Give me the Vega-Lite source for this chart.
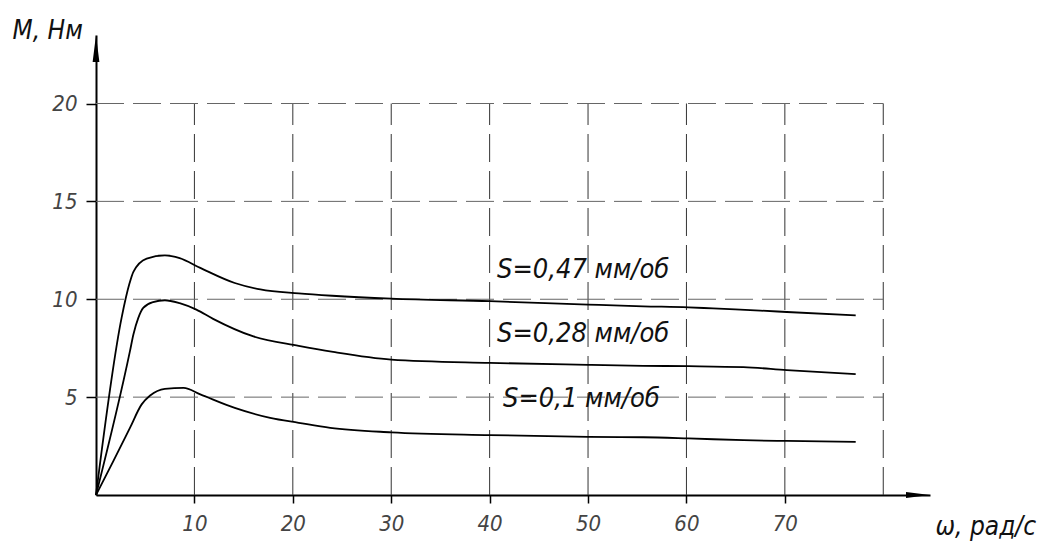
{
  "$schema": "https://vega.github.io/schema/vega-lite/v6.json",
  "width": 834,
  "height": 460,
  "autosize": {"type": "none"},
  "padding": {"left": 96, "top": 35, "right": 118, "bottom": 47},
  "background": "white",
  "config": {
    "view": {"stroke": null},
    "font": "DejaVu Sans Condensed",
    "axis": {
      "labelFont": "DejaVu Sans Condensed",
      "labelFontStyle": "italic",
      "labelColor": "#444",
      "labelFontSize": 22,
      "titleFont": "DejaVu Sans Condensed",
      "titleFontStyle": "italic",
      "titleFontWeight": "normal",
      "titleColor": "#111",
      "titleFontSize": 26,
      "domainColor": "black",
      "domainWidth": 2,
      "tickColor": "black",
      "tickWidth": 1.5,
      "grid": false
    }
  },
  "datasets": {
    "curves": [
      {"w": 0, "M": 0, "s": "0,47"},
      {"w": 2.6, "M": 9.05, "s": "0,47"},
      {"w": 3.4, "M": 10.8, "s": "0,47"},
      {"w": 3.8, "M": 11.4, "s": "0,47"},
      {"w": 5.15, "M": 12.08, "s": "0,47"},
      {"w": 7.0, "M": 12.24, "s": "0,47"},
      {"w": 8.5, "M": 12.1, "s": "0,47"},
      {"w": 10.6, "M": 11.6, "s": "0,47"},
      {"w": 14.1, "M": 10.83, "s": "0,47"},
      {"w": 16.7, "M": 10.5, "s": "0,47"},
      {"w": 20.6, "M": 10.3, "s": "0,47"},
      {"w": 24, "M": 10.18, "s": "0,47"},
      {"w": 30, "M": 10.03, "s": "0,47"},
      {"w": 40, "M": 9.9, "s": "0,47"},
      {"w": 50, "M": 9.73, "s": "0,47"},
      {"w": 55.6, "M": 9.64, "s": "0,47"},
      {"w": 60.2, "M": 9.59, "s": "0,47"},
      {"w": 62.7, "M": 9.53, "s": "0,47"},
      {"w": 67.5, "M": 9.42, "s": "0,47"},
      {"w": 70.2, "M": 9.35, "s": "0,47"},
      {"w": 77.2, "M": 9.18, "s": "0,47"},
      {"w": 0, "M": 0, "s": "0,28"},
      {"w": 3.45, "M": 7.35, "s": "0,28"},
      {"w": 3.8, "M": 8.2, "s": "0,28"},
      {"w": 4.3, "M": 9.05, "s": "0,28"},
      {"w": 4.8, "M": 9.56, "s": "0,28"},
      {"w": 5.8, "M": 9.85, "s": "0,28"},
      {"w": 7.0, "M": 9.95, "s": "0,28"},
      {"w": 8.5, "M": 9.8, "s": "0,28"},
      {"w": 10.2, "M": 9.47, "s": "0,28"},
      {"w": 11.9, "M": 9.0, "s": "0,28"},
      {"w": 16, "M": 8.1, "s": "0,28"},
      {"w": 20.6, "M": 7.62, "s": "0,28"},
      {"w": 24.1, "M": 7.31, "s": "0,28"},
      {"w": 30, "M": 6.92, "s": "0,28"},
      {"w": 40, "M": 6.75, "s": "0,28"},
      {"w": 50, "M": 6.65, "s": "0,28"},
      {"w": 55.6, "M": 6.6, "s": "0,28"},
      {"w": 60.2, "M": 6.58, "s": "0,28"},
      {"w": 65.8, "M": 6.53, "s": "0,28"},
      {"w": 70.2, "M": 6.38, "s": "0,28"},
      {"w": 77.2, "M": 6.18, "s": "0,28"},
      {"w": 0, "M": 0, "s": "0,1"},
      {"w": 1.76, "M": 1.73, "s": "0,1"},
      {"w": 3.45, "M": 3.43, "s": "0,1"},
      {"w": 4.64, "M": 4.63, "s": "0,1"},
      {"w": 5.5, "M": 5.08, "s": "0,1"},
      {"w": 7.0, "M": 5.42, "s": "0,1"},
      {"w": 8.9, "M": 5.47, "s": "0,1"},
      {"w": 10.6, "M": 5.14, "s": "0,1"},
      {"w": 14.1, "M": 4.45, "s": "0,1"},
      {"w": 17.7, "M": 3.94, "s": "0,1"},
      {"w": 20.6, "M": 3.69, "s": "0,1"},
      {"w": 23.8, "M": 3.43, "s": "0,1"},
      {"w": 30, "M": 3.2, "s": "0,1"},
      {"w": 40, "M": 3.06, "s": "0,1"},
      {"w": 50, "M": 2.97, "s": "0,1"},
      {"w": 55.6, "M": 2.95, "s": "0,1"},
      {"w": 60.2, "M": 2.89, "s": "0,1"},
      {"w": 65.8, "M": 2.8, "s": "0,1"},
      {"w": 70.2, "M": 2.76, "s": "0,1"},
      {"w": 77.2, "M": 2.71, "s": "0,1"}
    ],
    "labels": [
      {"w": 40.75, "M": 11.09, "text": "S=0,47 мм/об"},
      {"w": 40.75, "M": 7.82, "text": "S=0,28 мм/об"},
      {"w": 41.36, "M": 4.5, "text": "S=0,1 мм/об"}
    ],
    "vgrid": [{"w": 10}, {"w": 20}, {"w": 30}, {"w": 40}, {"w": 50}, {"w": 60}, {"w": 70}, {"w": 80}],
    "hgrid": [{"M": 5}, {"M": 10}, {"M": 15}, {"M": 20}]
  },
  "encoding": {
    "x": {
      "type": "quantitative",
      "scale": {"domain": [0, 84.75], "nice": false},
      "axis": {
        "values": [10, 20, 30, 40, 50, 60, 70],
        "tickSize": 8,
        "labelPadding": 10,
        "title": "ω, рад/с",
        "titleX": 839,
        "titleY": 39,
        "titleAlign": "left",
        "titleBaseline": "alphabetic"
      }
    },
    "y": {
      "type": "quantitative",
      "scale": {"domain": [0, 23.5], "nice": false},
      "axis": {
        "values": [5, 10, 15, 20],
        "tickSize": 10,
        "labelPadding": 9,
        "title": "М, Нм",
        "titleAngle": 0,
        "titleX": -84,
        "titleY": 3,
        "titleAlign": "left",
        "titleBaseline": "alphabetic"
      }
    }
  },
  "layer": [
    {
      "data": {"name": "vgrid"},
      "mark": {"type": "rule", "color": "#333", "strokeWidth": 1, "strokeDash": [28, 9]},
      "encoding": {
        "x": {"field": "w"},
        "y": {"datum": 0},
        "y2": {"datum": 20}
      }
    },
    {
      "data": {"name": "hgrid"},
      "mark": {"type": "rule", "color": "#666", "strokeWidth": 1, "strokeDash": [28, 9]},
      "encoding": {
        "y": {"field": "M"},
        "x": {"datum": 0},
        "x2": {"datum": 80}
      }
    },
    {
      "data": {"name": "curves"},
      "mark": {"type": "line", "color": "black", "strokeWidth": 1.8, "interpolate": "monotone", "strokeJoin": "round"},
      "encoding": {
        "x": {"field": "w"},
        "y": {"field": "M"},
        "detail": {"field": "s", "type": "nominal"}
      }
    },
    {
      "data": {"name": "labels"},
      "mark": {"type": "text", "align": "left", "baseline": "alphabetic", "font": "DejaVu Sans Condensed", "fontStyle": "italic", "fontSize": 27, "color": "#111"},
      "encoding": {
        "x": {"field": "w"},
        "y": {"field": "M"},
        "text": {"field": "text"}
      }
    },
    {
      "data": {"values": [{}]},
      "mark": {"type": "point", "filled": true, "color": "black", "opacity": 1, "size": 576, "shape": "M -2 -0.25 L 0 0 L -2 0.25 Z", "strokeWidth": 0},
      "encoding": {
        "x": {"datum": 84.75},
        "y": {"datum": 0}
      }
    },
    {
      "data": {"values": [{}]},
      "mark": {"type": "point", "filled": true, "color": "black", "opacity": 1, "size": 729, "shape": "M -0.25 2 L 0 0 L 0.25 2 Z", "strokeWidth": 0},
      "encoding": {
        "x": {"datum": 0},
        "y": {"datum": 23.5}
      }
    }
  ]
}
